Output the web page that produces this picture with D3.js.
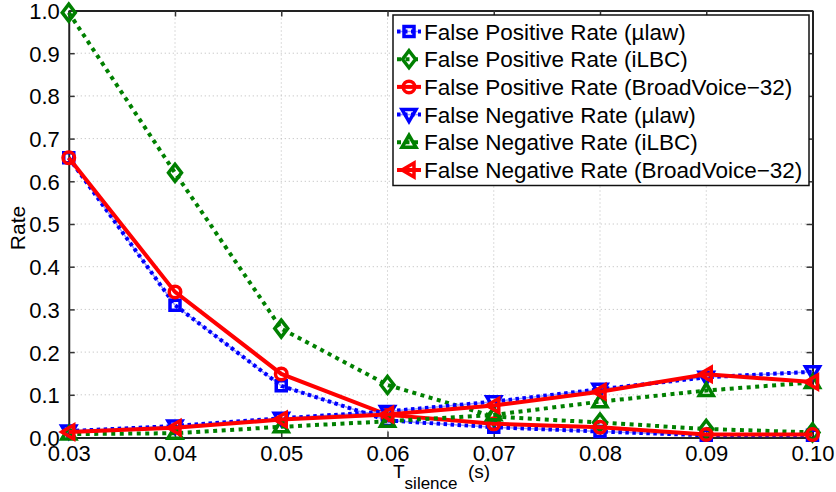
<!DOCTYPE html>
<html>
<head>
<meta charset="utf-8">
<script src="https://cdn.jsdelivr.net/npm/d3@7"></script>
<style>
  html, body { margin: 0; padding: 0; background: #fff; }
  svg { display: block; font-family: "Liberation Sans", Arial, Helvetica, sans-serif; }
</style>
</head>
<body>
<svg id="chart" width="836" height="492"></svg>
<script>
// Silence threshold values (s)
const thresholds = [0.03, 0.04, 0.05, 0.06, 0.07, 0.08, 0.09, 0.10];

// Rates per codec
const fpUlaw   = [0.655, 0.310, 0.121, 0.040, 0.024, 0.014, 0.005, 0.005];
const fpIlbc   = [0.995, 0.620, 0.255, 0.123, 0.049, 0.035, 0.020, 0.012];
const fpBv32   = [0.655, 0.341, 0.149, 0.053, 0.032, 0.024, 0.007, 0.007];
const fnUlaw   = [0.015, 0.027, 0.045, 0.061, 0.084, 0.113, 0.141, 0.154];
const fnIlbc   = [0.008, 0.010, 0.025, 0.038, 0.053, 0.084, 0.110, 0.129];
const fnBv32   = [0.013, 0.023, 0.042, 0.054, 0.075, 0.107, 0.148, 0.130];

const xTicks = [0.03, 0.04, 0.05, 0.06, 0.07, 0.08, 0.09, 0.10];
const yTicks = [0, 0.1, 0.2, 0.3, 0.4, 0.5, 0.6, 0.7, 0.8, 0.9, 1.0];

const seriesNames = [
  "False Positive Rate (\u00b5law)",
  "False Positive Rate (iLBC)",
  "False Positive Rate (BroadVoice\u221232)",
  "False Negative Rate (\u00b5law)",
  "False Negative Rate (iLBC)",
  "False Negative Rate (BroadVoice\u221232)"
];

const BLUE = "#0000ff", GREEN = "#008000", RED = "#ff0000";

const series = [
  { name: seriesNames[0], values: fpUlaw, color: BLUE,  style: "dashdot", marker: "square" },
  { name: seriesNames[1], values: fpIlbc, color: GREEN, style: "dotted",  marker: "diamond" },
  { name: seriesNames[2], values: fpBv32, color: RED,   style: "solid",   marker: "circle" },
  { name: seriesNames[3], values: fnUlaw, color: BLUE,  style: "dashdot", marker: "down" },
  { name: seriesNames[4], values: fnIlbc, color: GREEN, style: "dotted",  marker: "up" },
  { name: seriesNames[5], values: fnBv32, color: RED,   style: "solid",   marker: "left" }
];

const svg = d3.select("#chart");
const pLeft = 68.75, pRight = 812.5, pTop = 10.5, pBottom = 437.5;

const x = d3.scaleLinear().domain([0.03, 0.10]).range([pLeft, pRight]);
const y = d3.scaleLinear().domain([0, 1]).range([pBottom, pTop]);

const fmt2 = d3.format(".2f"), fmt1 = d3.format(".1f");

// Grid
const grid = svg.append("g").attr("stroke", "#b8b8b8").attr("stroke-width", 1)
  .attr("stroke-dasharray", "1,3");
grid.selectAll(".gx").data(xTicks.slice(1, -1)).join("line")
  .attr("x1", d => x(d)).attr("x2", d => x(d)).attr("y1", pTop).attr("y2", pBottom);
grid.selectAll(".gy").data(yTicks.slice(1, -1)).join("line")
  .attr("y1", d => y(d)).attr("y2", d => y(d)).attr("x1", pLeft).attr("x2", pRight);

// Axes with inward ticks on all four sides
const tickLen = 6;
const axB = svg.append("g").attr("transform", `translate(0,${pBottom})`)
  .call(d3.axisBottom(x).tickValues(xTicks).tickFormat(fmt2).tickSizeInner(-tickLen).tickSizeOuter(0).tickPadding(8));
const axT = svg.append("g").attr("transform", `translate(0,${pTop})`)
  .call(d3.axisTop(x).tickValues(xTicks).tickFormat("").tickSizeInner(-tickLen).tickSizeOuter(0));
const axL = svg.append("g").attr("transform", `translate(${pLeft},0)`)
  .call(d3.axisLeft(y).tickValues(yTicks).tickFormat(fmt1).tickSizeInner(-tickLen).tickSizeOuter(0).tickPadding(9));
const axR = svg.append("g").attr("transform", `translate(${pRight},0)`)
  .call(d3.axisRight(y).tickValues(yTicks).tickFormat("").tickSizeInner(-tickLen).tickSizeOuter(0));

[axB, axT, axL, axR].forEach(a => {
  a.select(".domain").attr("stroke", "#222").attr("stroke-width", 2);
  a.selectAll(".tick line").attr("stroke", "#333").attr("stroke-width", 1.5);
  a.selectAll("text").attr("font-size", 22).attr("fill", "#000")
    .attr("font-family", "'Liberation Sans', Arial, sans-serif");
});
axB.selectAll("text").attr("dy", "0.71em");
axL.selectAll("text").attr("dy", "0.36em");

// Axis labels
svg.append("text")
  .attr("transform", `translate(25,${(pTop + pBottom) / 2 + 4}) rotate(-90)`)
  .attr("text-anchor", "middle").attr("font-size", 21).text("Rate");

const xl = svg.append("text").attr("x", 393).attr("y", 478).attr("font-size", 19);
xl.append("tspan").text("T");
xl.append("tspan").attr("font-size", 17).attr("dy", 11).text("silence");
xl.append("tspan").attr("x", 468).attr("dy", -11).text("(s)");

// Line styles
function styleLine(sel, s) {
  if (s.style === "solid") {
    sel.attr("stroke", s.color).attr("stroke-width", 4);
  } else if (s.style === "dotted") {
    sel.attr("stroke", s.color).attr("stroke-width", 4).attr("stroke-dasharray", "4,4.5");
  } else {
    sel.attr("stroke", s.color).attr("stroke-width", 4).attr("stroke-dasharray", "3.5,3.5");
  }
}

// Marker shapes
function markerPath(type) {
  switch (type) {
    case "square":  return "M-5,-5H5V5H-5Z";
    case "diamond": return "M0,-8.5L6.5,0L0,8.5L-6.5,0Z";
    case "circle":  return d3.arc()({ innerRadius: 0, outerRadius: 5.75, startAngle: 0, endAngle: 2 * Math.PI });
    case "down":    return "M-7,-5H7L0,7Z";
    case "up":      return "M-7,5H7L0,-7Z";
    case "left":    return "M5,-7V7L-7,0Z";
  }
}

function drawMarker(g, s, cx, cy) {
  g.append("path")
    .attr("d", markerPath(s.marker))
    .attr("transform", `translate(${cx},${cy})`)
    .attr("fill", "none")
    .attr("stroke", s.color)
    .attr("stroke-width", 3.5)
    .attr("stroke-linejoin", "miter");
}

const plot = svg.append("g");
const line = d3.line().x((d, i) => x(thresholds[i])).y(d => y(d));

series.forEach(s => {
  const g = plot.append("g");
  if (s.style === "dashdot") {
    g.append("path").attr("d", line(s.values)).attr("fill", "none")
      .attr("stroke", "#9a9aff").attr("stroke-width", 1.5);
  }
  const p = g.append("path").attr("d", line(s.values)).attr("fill", "none");
  styleLine(p, s);
  s.values.forEach((v, i) => drawMarker(g, s, x(thresholds[i]), y(v)));
});

// Legend
const lg = svg.append("g");
const lx0 = 393, ly0 = 15, lw = 416, lh = 170.5;
lg.append("rect").attr("x", lx0).attr("y", ly0).attr("width", lw).attr("height", lh)
  .attr("fill", "#fff").attr("stroke", "#111").attr("stroke-width", 1.5);

series.forEach((s, i) => {
  const cy = 31.5 + i * 27.7;
  const g = lg.append("g");
  if (s.style === "dashdot") {
    g.append("line").attr("x1", 397).attr("x2", 421).attr("y1", cy).attr("y2", cy)
      .attr("stroke", "#9a9aff").attr("stroke-width", 1.5);
  }
  const l = g.append("line").attr("x1", 397).attr("x2", 421).attr("y1", cy).attr("y2", cy);
  styleLine(l, s);
  drawMarker(g, s, 409, cy);
  g.append("text").attr("x", 424).attr("y", cy).attr("dy", "0.36em")
    .attr("font-size", 22.5).text(s.name);
});
</script>
</body>
</html>
